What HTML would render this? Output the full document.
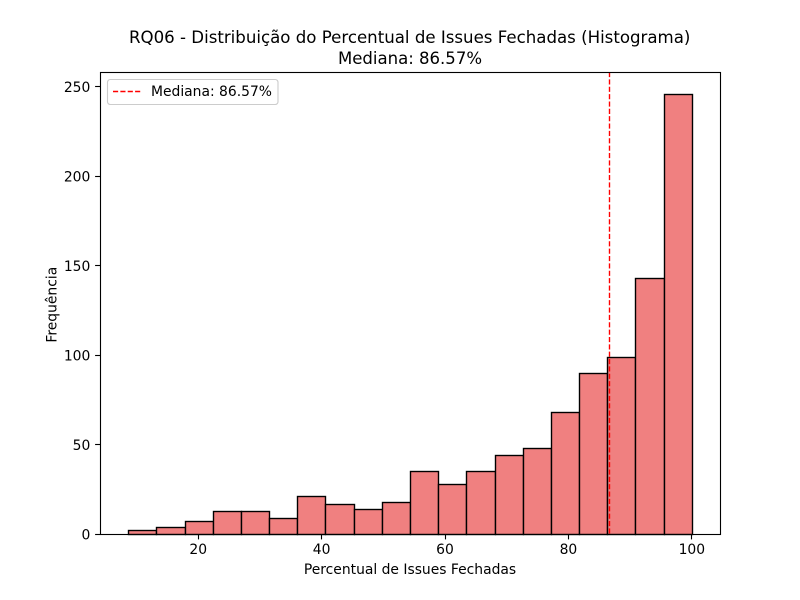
<!DOCTYPE html>
<html lang="pt">
<head>
<meta charset="utf-8">
<title>RQ06 - Distribuição do Percentual de Issues Fechadas</title>
<style>
html,body{margin:0;padding:0;background:#fff;}
svg{display:block;}
text{font-family:"DejaVu Sans","Liberation Sans",sans-serif;fill:#000;}
</style>
</head>
<body>
<svg id="chart" xmlns="http://www.w3.org/2000/svg" width="800" height="600" viewBox="0 0 800 600">
  <rect x="0" y="0" width="800" height="600" fill="#fff"/>
  <g id="bars"></g>
  <g id="median"></g>
  <g id="xticks"></g>
  <g id="yticks"></g>
  <rect x="100.5" y="72.5" width="620" height="462" fill="none" stroke="#000" stroke-width="1.11"/>
  <text x="409.7" y="43" font-size="16.62" text-anchor="middle">RQ06 - Distribuição do Percentual de Issues Fechadas (Histograma)</text>
  <text x="410" y="64" font-size="16.55" text-anchor="middle">Mediana: 86.57%</text>
  <text x="410" y="574" font-size="13.89" text-anchor="middle">Percentual de Issues Fechadas</text>
  <text x="0" y="0" font-size="13.89" text-anchor="middle" transform="translate(56.5 304.7) rotate(-90)">Frequência</text>
  <g>
    <rect x="107.5" y="79.5" width="170.5" height="25" rx="2.8" ry="2.8" fill="#fff" fill-opacity="0.8" stroke="#ccc" stroke-width="1.11"/>
    <line x1="113" y1="91.5" x2="141" y2="91.5" stroke="#f00" stroke-width="1.39" stroke-dasharray="5.14 2.22"/>
    <text x="151" y="96" font-size="13.89">Mediana: 86.57%</text>
  </g>
</svg>
<script>
const binCounts = [2, 4, 7, 13, 13, 9, 21, 17, 14, 18, 35, 28, 35, 44, 48, 68, 90, 99, 143, 246];
const dataMin = [8.65];
const dataMax = [100];
const medianValue = [86.57];
const xTickValues = [20, 40, 60, 80, 100];
const yTickValues = [0, 50, 100, 150, 200, 250];

const NS = 'http://www.w3.org/2000/svg';
const plot = { left: 100, right: 720, top: 72, bottom: 534 };

function xScale(v) {
  const span = dataMax[0] - dataMin[0];
  const lo = dataMin[0] - span * 0.05;
  const hi = dataMax[0] + span * 0.05;
  return plot.left + (v - lo) / (hi - lo) * (plot.right - plot.left);
}
function yScale(v) {
  const top = Math.max.apply(null, binCounts) * 1.05;
  return plot.bottom - v / top * (plot.bottom - plot.top);
}
function snapLine(p) { return Math.round(p) + 0.5; }
function snapTick(p) { return Math.floor(p) + 0.5; }
function make(tag, attrs) {
  const el = document.createElementNS(NS, tag);
  for (const k in attrs) el.setAttribute(k, attrs[k]);
  return el;
}

const barsGroup = document.getElementById('bars');
const binWidth = (dataMax[0] - dataMin[0]) / binCounts.length;
binCounts.forEach(function (count, i) {
  const x0 = snapLine(xScale(dataMin[0] + i * binWidth));
  const x1 = snapLine(xScale(dataMin[0] + (i + 1) * binWidth));
  const yTop = snapLine(yScale(count));
  const yBase = snapLine(yScale(0));
  const bar = make('rect', { x: x0, y: yTop, width: x1 - x0, height: yBase - yTop, fill: '#f08080', stroke: '#000', 'stroke-width': 1.39 });
  
  
  barsGroup.appendChild(bar);
});

const medianGroup = document.getElementById('median');
const medianX = snapLine(xScale(medianValue[0]));
const medianLine = make('line', { x1: medianX, y1: plot.top, x2: medianX, y2: plot.bottom, stroke: '#f00', 'stroke-width': 1.39, 'stroke-dasharray': '5.14 2.22' });


medianGroup.appendChild(medianLine);

const xTicksGroup = document.getElementById('xticks');
xTickValues.forEach(function (v) {
  const px = snapTick(xScale(v));
  const tick = make('line', { x1: px, y1: plot.bottom, x2: px, y2: plot.bottom + 5.4, stroke: '#000', 'stroke-width': 1.11 });
  
  
  xTicksGroup.appendChild(tick);
  const label = make('text', { x: xScale(v), y: plot.bottom + 20, 'font-size': 13.89, 'text-anchor': 'middle' });
  
  
  label.textContent = String(v);
  xTicksGroup.appendChild(label);
});

const yTicksGroup = document.getElementById('yticks');
yTickValues.forEach(function (v) {
  const py = snapTick(yScale(v));
  const tick = make('line', { x1: plot.left - 4.9, y1: py, x2: plot.left + 0.5, y2: py, stroke: '#000', 'stroke-width': 1.11 });
  
  
  yTicksGroup.appendChild(tick);
  const label = make('text', { x: plot.left - 9.7, y: yScale(v) + 5.3, 'font-size': 13.89, 'text-anchor': 'end' });
  
  
  label.textContent = String(v);
  yTicksGroup.appendChild(label);
});
</script>
</body>
</html>
